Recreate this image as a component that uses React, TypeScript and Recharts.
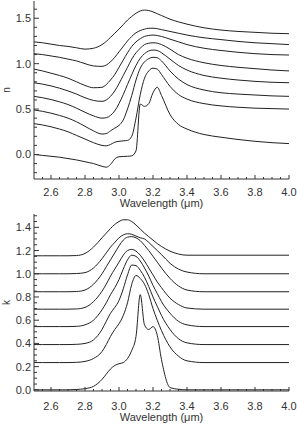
import React from "react";
import { LineChart, Line, XAxis, YAxis, Label } from "recharts";

// wavelength grid (micron), denser through the band
const wavelength = [
  2.5, 2.55, 2.6, 2.65, 2.7, 2.75, 2.8, 2.85, 2.9, 2.925, 2.95, 2.975, 3.0, 3.025,
  3.05, 3.075, 3.1, 3.125, 3.15, 3.175, 3.2, 3.225, 3.25, 3.3, 3.35, 3.4, 3.5, 3.6,
  3.7, 3.8, 3.9, 4.0,
];

// real part n, offset curves (top to bottom)
const n1 = [1.24, 1.23, 1.215, 1.2, 1.19, 1.175, 1.16, 1.17, 1.21, 1.245, 1.29, 1.335, 1.38, 1.43, 1.48, 1.52, 1.555, 1.58, 1.59, 1.585, 1.57, 1.55, 1.53, 1.49, 1.46, 1.435, 1.395, 1.37, 1.355, 1.345, 1.335, 1.33];
const n2 = [1.11, 1.1, 1.085, 1.07, 1.05, 1.03, 1.0, 0.975, 0.97, 0.985, 1.02, 1.07, 1.13, 1.19, 1.25, 1.3, 1.34, 1.365, 1.38, 1.39, 1.39, 1.385, 1.375, 1.355, 1.335, 1.315, 1.285, 1.265, 1.245, 1.23, 1.22, 1.21];
const n3 = [0.94, 0.92, 0.895, 0.87, 0.84, 0.8, 0.76, 0.735, 0.74, 0.77, 0.82, 0.88, 0.96, 1.04, 1.12, 1.19, 1.24, 1.275, 1.3, 1.31, 1.315, 1.31, 1.3, 1.27, 1.24, 1.21, 1.17, 1.145, 1.125, 1.11, 1.1, 1.095];
const n4 = [0.79, 0.775, 0.755, 0.73, 0.7, 0.665, 0.625, 0.595, 0.585, 0.6, 0.64, 0.7, 0.78, 0.87, 0.96, 1.05, 1.12, 1.17, 1.21, 1.225, 1.23, 1.225, 1.21, 1.16, 1.1, 1.06, 1.01, 0.98, 0.96, 0.945, 0.93, 0.92];
const n5 = [0.64, 0.625, 0.605, 0.58, 0.55, 0.51, 0.465, 0.425, 0.4, 0.405, 0.43, 0.48, 0.56, 0.66, 0.77, 0.88, 0.98, 1.06, 1.11, 1.14, 1.15, 1.145, 1.12, 1.05, 0.98, 0.93, 0.87, 0.84, 0.82, 0.805, 0.795, 0.79];
const n6 = [0.49, 0.475, 0.455, 0.43, 0.4, 0.36, 0.31, 0.26, 0.225, 0.23, 0.26, 0.29, 0.32, 0.38, 0.5, 0.65, 0.82, 0.95, 1.02, 1.055, 1.07, 1.065, 1.03, 0.92, 0.83, 0.77, 0.71, 0.68, 0.665, 0.655, 0.645, 0.64];
const n7 = [0.34, 0.325, 0.305, 0.28, 0.25, 0.21, 0.17, 0.13, 0.1, 0.095, 0.11, 0.135, 0.145, 0.15, 0.155, 0.2, 0.4, 0.66, 0.84, 0.92, 0.95, 0.94, 0.88, 0.75, 0.66, 0.61, 0.56, 0.535, 0.52, 0.51, 0.505, 0.5];
const n8 = [0.0, -0.01, -0.02, -0.03, -0.045, -0.06, -0.08, -0.1, -0.13, -0.14, -0.11, -0.05, -0.025, -0.022, -0.02, -0.015, 0.04, 0.555, 0.53, 0.56, 0.68, 0.74, 0.65, 0.44, 0.33, 0.28, 0.22, 0.19, 0.165, 0.145, 0.13, 0.12];

// imaginary part k, offset curves (top to bottom)
const k1 = [1.155, 1.155, 1.155, 1.155, 1.155, 1.157, 1.175, 1.23, 1.31, 1.35, 1.39, 1.425, 1.45, 1.465, 1.465, 1.45, 1.42, 1.385, 1.35, 1.32, 1.29, 1.26, 1.235, 1.195, 1.17, 1.16, 1.16, 1.16, 1.16, 1.16, 1.16, 1.16];
const k2 = [1.0, 1.0, 1.0, 1.0, 1.0, 1.002, 1.01, 1.05, 1.13, 1.18, 1.23, 1.27, 1.31, 1.335, 1.345, 1.34, 1.325, 1.31, 1.3, 1.27, 1.235, 1.2, 1.165, 1.09, 1.04, 1.015, 1.0, 1.0, 1.0, 1.0, 1.0, 1.0];
const k3 = [0.845, 0.845, 0.845, 0.845, 0.845, 0.847, 0.86, 0.91, 1.0, 1.06, 1.12, 1.18, 1.24, 1.29, 1.315, 1.32, 1.31, 1.285, 1.245, 1.2, 1.15, 1.1, 1.05, 0.96, 0.895, 0.86, 0.845, 0.845, 0.845, 0.845, 0.845, 0.845];
const k4 = [0.695, 0.695, 0.695, 0.695, 0.695, 0.697, 0.71, 0.76, 0.85, 0.91, 0.98, 1.04, 1.1, 1.16, 1.2, 1.21, 1.195, 1.16, 1.11, 1.05, 0.99, 0.93, 0.88, 0.79, 0.735, 0.705, 0.695, 0.695, 0.695, 0.695, 0.695, 0.695];
const k5 = [0.545, 0.545, 0.545, 0.545, 0.545, 0.547, 0.56, 0.6, 0.69, 0.75, 0.82, 0.88, 0.95, 1.04, 1.12, 1.16, 1.15, 1.11, 1.05, 0.98, 0.9, 0.83, 0.76, 0.66, 0.59, 0.56, 0.545, 0.545, 0.545, 0.545, 0.545, 0.545];
const k6 = [0.39, 0.39, 0.39, 0.39, 0.39, 0.392, 0.4, 0.43, 0.52, 0.59, 0.66, 0.71, 0.77, 0.87, 0.99, 1.075, 1.07, 1.03, 0.97, 0.89, 0.8, 0.72, 0.64, 0.52, 0.44, 0.405, 0.39, 0.39, 0.39, 0.39, 0.39, 0.39];
const k7 = [0.235, 0.235, 0.235, 0.235, 0.235, 0.237, 0.245, 0.27, 0.33, 0.39, 0.46, 0.52, 0.57, 0.64, 0.75, 0.91, 0.985, 0.96, 0.91, 0.82, 0.7, 0.6, 0.51, 0.37, 0.29, 0.25, 0.235, 0.235, 0.235, 0.235, 0.235, 0.235];
const k8 = [0.0, 0.0, 0.0, 0.0, 0.0, 0.003, 0.01, 0.03, 0.09, 0.135, 0.18, 0.21, 0.225, 0.235, 0.27, 0.34, 0.46, 0.82, 0.56, 0.52, 0.545, 0.47, 0.26, 0.02, 0.005, 0.0, 0.0, 0.0, 0.0, 0.0, 0.0, 0.0];

const nSeries = [n1, n2, n3, n4, n5, n6, n7, n8];
const kSeries = [k1, k2, k3, k4, k5, k6, k7, k8];

// ticks
const xMajor = [2.6, 2.8, 3.0, 3.2, 3.4, 3.6, 3.8, 4.0];
const xMinor = [2.55, 2.65, 2.7, 2.75, 2.85, 2.9, 2.95, 3.05, 3.1, 3.15, 3.25, 3.3, 3.35, 3.45, 3.5, 3.55, 3.65, 3.7, 3.75, 3.85, 3.9, 3.95];
const nMajor = [0.0, 0.5, 1.0, 1.5];
const nMinor = [-0.2, -0.1, 0.1, 0.2, 0.3, 0.4, 0.6, 0.7, 0.8, 0.9, 1.1, 1.2, 1.3, 1.4, 1.6];
const kMajor = [0.0, 0.2, 0.4, 0.6, 0.8, 1.0, 1.2, 1.4];
const kMinor = [0.05, 0.1, 0.15, 0.25, 0.3, 0.35, 0.45, 0.5, 0.55, 0.65, 0.7, 0.75, 0.85, 0.9, 0.95, 1.05, 1.1, 1.15, 1.25, 1.3, 1.35, 1.45, 1.5];

const nRows = wavelength.map((w, i) => {
  const row: any = { w };
  nSeries.forEach((s, j) => (row["c" + j] = s[i]));
  return row;
});
const kRows = wavelength.map((w, i) => {
  const row: any = { w };
  kSeries.forEach((s, j) => (row["c" + j] = s[i]));
  return row;
});

const INK = "#333";
const FONT = "'Liberation Sans', Arial, sans-serif";
const PLOT_L = 34;
const PLOT_R = 289;

function tickMaker(side: string, majors: number[], major: number, minor: number, labelGap: number) {
  return (props: any) => {
    const { x, y, payload } = props;
    const v = payload.value;
    const isMajor = majors.some((m) => Math.abs(m - v) < 1e-6);
    const len = isMajor ? major : minor;
    let x2 = x;
    let y2 = y;
    if (side === "bottom") y2 = y - len;
    if (side === "top") y2 = y + len;
    if (side === "left") x2 = x + len;
    if (side === "right") x2 = x - len;
    return (
      <g>
        <line x1={x} y1={y} x2={x2} y2={y2} stroke={INK} strokeWidth={1} />
        {labelGap > 0 && isMajor && side === "bottom" && (
          <text x={x} y={y + labelGap} textAnchor="middle" fontSize={11} fontFamily={FONT} fill={INK}>
            {v.toFixed(1)}
          </text>
        )}
        {labelGap > 0 && isMajor && side === "left" && (
          <text x={x - labelGap} y={y + 4} textAnchor="end" fontSize={11} fontFamily={FONT} fill={INK}>
            {v.toFixed(1)}
          </text>
        )}
      </g>
    );
  };
}

function Panel(props: {
  rows: any[];
  height: number;
  top: number;
  plotH: number;
  domain: [number, number];
  yMajor: number[];
  yMinor: number[];
  name: string;
  xLabelGap: number;
}) {
  const { rows, height, top, plotH, domain, yMajor, yMinor, name, xLabelGap } = props;
  const xTicks = [...xMajor, ...xMinor].sort((a, b) => a - b);
  const yTicks = [...yMajor, ...yMinor].sort((a, b) => a - b);
  const axisH = height - top - plotH;
  const midY = top + plotH / 2;
  const axisCommon = {
    tickLine: false,
    tickSize: 0,
    tickMargin: 0,
    interval: 0 as const,
    axisLine: { stroke: INK },
    allowDataOverflow: true,
  };
  return (
    <LineChart width={297} height={height} data={rows} margin={{ top, right: 297 - PLOT_R, bottom: 0, left: 0 }}>
      <XAxis
        {...axisCommon}
        dataKey="w"
        type="number"
        domain={[2.5, 4.0]}
        ticks={xTicks}
        height={axisH}
        tick={tickMaker("bottom", xMajor, 4, 2, xLabelGap)}
      >
        <Label
          content={() => (
            <text x={(PLOT_L + PLOT_R) / 2} y={top + plotH + xLabelGap + 11} textAnchor="middle" fontSize={11} fontFamily={FONT} fill={INK}>
              Wavelength ({"\u03bc"}m)
            </text>
          )}
        />
      </XAxis>
      <XAxis
        {...axisCommon}
        xAxisId="top"
        orientation="top"
        dataKey="w"
        type="number"
        domain={[2.5, 4.0]}
        ticks={xTicks}
        height={0}
        tick={tickMaker("top", xMajor, 4, 2, 0)}
      />
      <YAxis
        {...axisCommon}
        type="number"
        domain={domain}
        ticks={yTicks}
        width={PLOT_L}
        tick={tickMaker("left", yMajor, 5, 3, 3)}
      >
        <Label
          content={() => (
            <text x={10} y={midY} transform={`rotate(-90 10 ${midY})`} textAnchor="middle" fontSize={10} fontFamily={FONT} fill={INK}>
              {name}
            </text>
          )}
        />
      </YAxis>
      <YAxis
        {...axisCommon}
        yAxisId="right"
        orientation="right"
        type="number"
        domain={domain}
        ticks={yTicks}
        width={0}
        tick={tickMaker("right", yMajor, 5, 3, 0)}
      />
      {nSeries.map((_, j) => (
        <Line
          key={j}
          dataKey={"c" + j}
          type="monotone"
          stroke="#222"
          strokeWidth={1}
          dot={false}
          activeDot={false}
          isAnimationActive={false}
        />
      ))}
    </LineChart>
  );
}

export default function App() {
  return (
    <div style={{ position: "absolute", left: 0, top: 0, width: 297, height: 425, background: "#fff" }}>
      <Panel rows={nRows} height={210} top={1} plotH={178} domain={[-0.27, 1.69]} yMajor={nMajor} yMinor={nMinor} name="n" xLabelGap={17} />
      <Panel rows={kRows} height={215} top={4} plotH={177} domain={[-0.01, 1.515]} yMajor={kMajor} yMinor={kMinor} name="k" xLabelGap={19} />
    </div>
  );
}
